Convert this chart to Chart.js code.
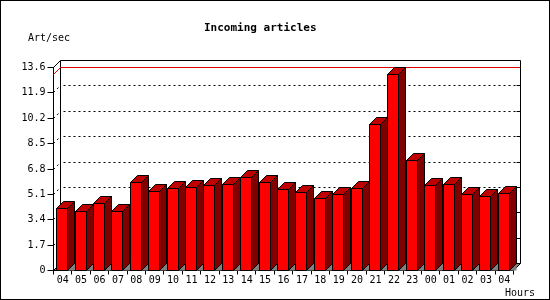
<!DOCTYPE html>
<html><head><meta charset="utf-8">
<script src="https://cdn.jsdelivr.net/npm/chart.js@4.4.0/dist/chart.umd.min.js"></script>
<style>html,body{margin:0;padding:0;background:#fff}#wrap{width:550px;height:300px}</style>
</head><body><div id="wrap"><canvas id="c" width="550" height="300"></canvas></div>
<script>
const hours = ['04','05','06','07','08','09','10','11','12','13','14','15','16','17','18','19','20','21','22','23','00','01','02','03','04'];
const articlesPerSec = [4.13,3.97,4.47,3.93,5.87,5.27,5.47,5.54,5.69,5.76,6.21,5.87,5.40,5.20,4.80,5.07,5.47,9.76,13.1,7.35,5.69,5.74,5.07,4.94,5.14];
const yTickValues = [0,1.7,3.4,5.1,6.8,8.5,10.2,11.9,13.6];
const yTickLabels = ['0','1.7','3.4','5.1','6.8','8.5','10.2','11.9','13.6'];
const titleText = 'Incoming articles';
const yUnitText = 'Art/sec';
const xUnitText = 'Hours';

const D = 7;
const MONO = '"DejaVu Sans Mono", "Liberation Mono", monospace';
const snap = v => Math.round(v - 0.5) + 0.5;

function poly(ctx, pts, fill, stroke) {
  ctx.beginPath();
  ctx.moveTo(pts[0][0], pts[0][1]);
  for (let i = 1; i < pts.length; i++) ctx.lineTo(pts[i][0], pts[i][1]);
  ctx.closePath();
  if (fill) { ctx.fillStyle = fill; ctx.fill(); }
  if (stroke) { ctx.strokeStyle = stroke; ctx.stroke(); }
}
function line(ctx, x1, y1, x2, y2) {
  ctx.beginPath(); ctx.moveTo(x1, y1); ctx.lineTo(x2, y2); ctx.stroke();
}

const threeD = {
  id: 'threeD',
  beforeDraw(chart) {
    const ctx = chart.ctx;
    ctx.save();
    ctx.fillStyle = '#fff';
    ctx.fillRect(0, 0, chart.width, chart.height);
    ctx.restore();
  },
  beforeDatasetsDraw(chart) {
    const { ctx, chartArea: a, scales: { y } } = chart;
    const L = snap(a.left), R = snap(a.right), T = snap(a.top), B = snap(a.bottom);
    ctx.save();
    ctx.lineWidth = 1;
    // floor
    poly(ctx, [[L, B], [R, B], [R + D, B - D], [L + D, B - D]], '#808080', '#000');
    // back wall frame
    ctx.strokeStyle = '#000';
    line(ctx, L + D, T - D, L + D, B - D);
    line(ctx, L + D, T - D, R + D, T - D);
    line(ctx, R + D, T - D, R + D, B - D);
    line(ctx, L, T, L + D, T - D);
    // grid lines on back wall
    yTickValues.forEach(v => {
      if (v === yTickValues[0] || v === yTickValues[yTickValues.length - 1]) return;
      const yf = snap(y.getPixelForValue(v));
      const yb = yf - D;
      ctx.setLineDash([2, 3]);
      line(ctx, L, yf, L + D, yb);
      line(ctx, L + D + 3, yb, R + D, yb);
      ctx.setLineDash([]);
      line(ctx, R + D - 4, yb, R + D, yb);
    });
    // max line
    const maxV = Math.max(...articlesPerSec);
    const ym = snap(y.getPixelForValue(maxV));
    ctx.strokeStyle = '#e00000';
    ctx.beginPath();
    ctx.moveTo(L, ym); ctx.lineTo(L + D, ym - D); ctx.lineTo(R + D - 0.5, ym - D);
    ctx.stroke();
    ctx.restore();
  },
  afterDatasetsDraw(chart) {
    const ctx = chart.ctx;
    const meta = chart.getDatasetMeta(0);
    ctx.save();
    ctx.lineWidth = 1;
    meta.data.forEach(el => {
      const Lb = Math.round(el.x - 6.5) + 0.5;
      const Rb = Lb + 11;
      const Tb = snap(el.y);
      const Bb = snap(el.base);
      // floor triangle
      poly(ctx, [[Rb, Bb], [Rb + D, Bb - D], [Rb + D, Bb]], '#808080', null);
      // side
      poly(ctx, [[Rb, Bb], [Rb, Tb], [Rb + D, Tb - D], [Rb + D, Bb - D]], '#800000', '#000');
      // top
      poly(ctx, [[Lb, Tb], [Rb, Tb], [Rb + D, Tb - D], [Lb + D, Tb - D]], '#c00000', '#000');
      // front
      poly(ctx, [[Lb, Tb], [Rb, Tb], [Rb, Bb], [Lb, Bb]], '#ff0000', '#000');
    });
    ctx.restore();
  },
  afterDraw(chart) {
    const ctx = chart.ctx;
    ctx.save();
    ctx.fillStyle = '#000';
    ctx.textBaseline = 'alphabetic';
    ctx.textAlign = 'left';
    ctx.font = 'bold 11px ' + MONO;
    ctx.fillText(titleText, 204, 31);
    ctx.font = '10px ' + MONO;
    ctx.fillText(yUnitText, 28, 41);
    ctx.fillText(xUnitText, 505, 296);
    ctx.strokeStyle = '#000';
    ctx.lineWidth = 1;
    ctx.strokeRect(0.5, 0.5, chart.width - 1, chart.height - 1);
    ctx.restore();
  }
};

new Chart(document.getElementById('c'), {
  type: 'bar',
  data: {
    labels: hours,
    datasets: [{
      label: 'Incoming articles',
      data: articlesPerSec,
      backgroundColor: 'rgba(0,0,0,0)',
      borderWidth: 0,
      barThickness: 11
    }]
  },
  options: {
    responsive: false,
    animation: false,
    devicePixelRatio: 1,
    layout: { padding: { top: 67.5, right: 36.5, bottom: 0, left: 0 } },
    plugins: { legend: { display: false }, tooltip: { enabled: false }, title: { display: false } },
    scales: {
      x: {
        type: 'category',
        offset: true,
        grid: { display: true, drawOnChartArea: false, drawTicks: true, tickLength: 4, color: '#000', offset: true },
        border: { display: true, color: '#000' },
        ticks: { color: '#000', font: { family: MONO, size: 10 }, padding: 0, maxRotation: 0, autoSkip: false },
        afterFit(s) { s.height = 29.5; }
      },
      y: {
        type: 'linear',
        min: 0,
        max: 13.6,
        afterBuildTicks(s) { s.ticks = yTickValues.map(v => ({ value: v })); },
        grid: { display: true, drawOnChartArea: false, drawTicks: true, tickLength: 6, color: '#000' },
        border: { display: true, color: '#000' },
        ticks: { color: '#000', font: { family: MONO, size: 10 }, padding: 2, callback: (v, i) => yTickLabels[i] },
        afterFit(s) { s.width = 53.5; }
      }
    }
  },
  plugins: [threeD]
});
</script>
</body></html>
